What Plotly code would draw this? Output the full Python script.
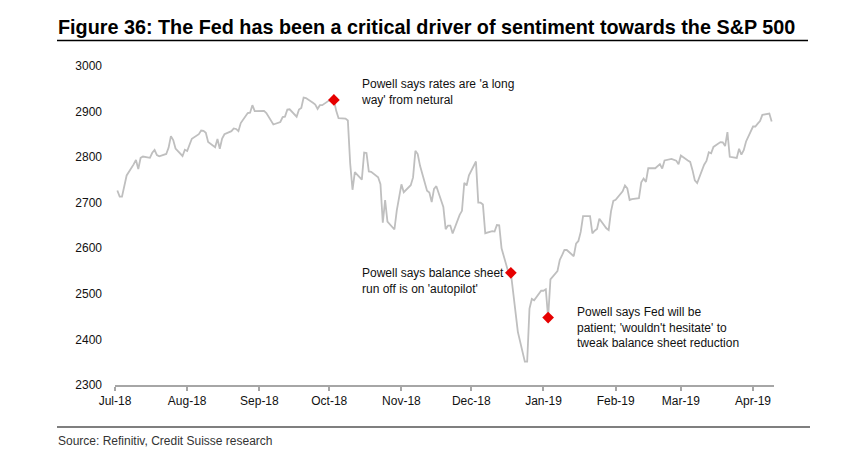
import pandas as pd
import plotly.graph_objects as go

# S&P 500 daily level (weekdays; market holidays carry previous value)
jul18 = [2726.71, 2713.22, 2713.22, 2736.61, 2759.82, 2784.17, 2793.84, 2774.02, 2798.29, 2801.31,
         2798.43, 2809.55, 2815.62, 2804.49, 2801.83, 2806.98, 2820.40, 2846.07, 2837.44, 2818.82,
         2802.60, 2816.29]
aug18 = [2813.36, 2827.22, 2840.35, 2850.40, 2858.45, 2857.70, 2853.58, 2833.28, 2821.93, 2839.96,
         2818.37, 2840.69, 2850.13, 2857.05, 2862.96, 2861.82, 2856.98, 2874.69, 2896.74, 2897.52,
         2914.04, 2901.13, 2901.52]
sep18 = [2901.52, 2896.72, 2888.60, 2878.05, 2871.68, 2877.13, 2887.89, 2888.92, 2904.18, 2904.98,
         2888.80, 2904.31, 2907.95, 2930.75, 2929.67, 2919.37, 2915.56, 2905.97, 2914.00, 2913.98]
oct18 = [2924.59, 2923.43, 2925.51, 2901.61, 2885.57, 2884.43, 2880.34, 2785.68, 2728.37, 2767.13,
         2750.79, 2809.92, 2809.21, 2768.78, 2767.78, 2755.88, 2740.69, 2656.10, 2705.57, 2658.69,
         2641.25, 2682.63, 2711.74]
nov18 = [2740.37, 2723.06, 2738.31, 2755.45, 2813.89, 2806.83, 2781.01, 2726.22, 2722.18, 2701.58,
         2730.20, 2736.27, 2690.73, 2641.89, 2649.93, 2649.93, 2632.56, 2673.45, 2682.17, 2743.79,
         2737.80, 2760.17]
dec18 = [2790.37, 2700.06, 2700.06, 2695.95, 2633.08, 2637.72, 2636.78, 2651.07, 2650.54, 2599.95,
         2545.94, 2546.16, 2506.96, 2467.42, 2416.62, 2351.10, 2351.10, 2467.70, 2488.83, 2485.74,
         2506.85]
jan19 = [2506.85, 2510.03, 2447.89, 2531.94, 2549.69, 2574.41, 2584.96, 2596.64, 2596.26, 2582.61,
         2610.30, 2616.10, 2635.96, 2670.71, 2670.71, 2632.90, 2638.70, 2642.33, 2664.76, 2643.85,
         2640.00, 2681.05, 2704.10]
feb19 = [2706.53, 2724.87, 2737.70, 2731.61, 2706.05, 2707.88, 2709.80, 2744.73, 2753.03, 2745.73,
         2775.60, 2775.60, 2779.76, 2784.70, 2774.88, 2792.67, 2796.11, 2793.90, 2792.38, 2784.49]
mar19 = [2803.69, 2792.81, 2789.65, 2771.45, 2748.93, 2743.07, 2783.30, 2791.52, 2810.92, 2808.48,
         2822.48, 2832.94, 2832.57, 2824.23, 2854.88, 2800.71, 2798.36, 2818.46, 2805.37, 2815.44,
         2834.40]
apr19 = [2867.19, 2867.24, 2873.40, 2879.39, 2892.74, 2895.77, 2878.20]

spx_values = jul18 + aug18 + sep18 + oct18 + nov18 + dec18 + jan19 + feb19 + mar19 + apr19
spx_dates = pd.bdate_range("2018-07-02", "2019-04-09")
assert len(spx_dates) == len(spx_values)

event_dates = ["2018-10-03", "2018-12-18", "2019-01-03"]
event_values = [2925.51, 2546.16, 2447.89]
event_labels = [
    "Powell says rates are 'a long<br>way' from netural",
    "Powell says balance sheet<br>run off is on 'autopilot'",
    "Powell says Fed will be<br>patient; 'wouldn't hesitate' to<br>tweak balance sheet reduction",
]

title_text = "Figure 36: The Fed has been a critical driver of sentiment towards the S&P 500"
source_text = "Source: Refinitiv, Credit Suisse research"
y_ticks = [2300, 2400, 2500, 2600, 2700, 2800, 2900, 3000]

SANS = "Liberation Sans, Arial, sans-serif"

# the page body adds an 8px offset; lay out in reference pixel coords minus 8
OFF = 8
L, R, T, B = 115 - OFF, 774 - OFF, 66 - OFF, 385 - OFF
W, H = 859 - OFF, 456 - OFF
def px(x):
    return (x - OFF - L) / (R - L)
def py(y):
    return (B - (y - OFF)) / (B - T)

fig = go.Figure()
fig.add_trace(go.Scatter(x=spx_dates, y=spx_values, mode="lines",
                         line=dict(color="#BFBFBF", width=1.8), hoverinfo="skip",
                         showlegend=False))
fig.add_trace(go.Scatter(x=event_dates, y=event_values, mode="markers",
                         marker=dict(symbol="diamond", color="#E60000", size=9,
                                     line=dict(width=0)),
                         showlegend=False))

ann_pos = [(359, 91.5), (360, 280.5), (575, 327.5)]
annotations = []
for (ax, ay), txt in zip(ann_pos, event_labels):
    annotations.append(dict(x=px(ax), y=py(ay), xref="paper", yref="paper", text=txt,
                            showarrow=False, xanchor="left", yanchor="middle", align="left",
                            font=dict(family=SANS, size=12, color="#111111")))
annotations.append(dict(x=px(56), y=py(27), xref="paper", yref="paper", text="<b>" + title_text + "</b>",
                        showarrow=False, xanchor="left", yanchor="middle",
                        font=dict(family=SANS, size=19.8, color="#000000")))
annotations.append(dict(x=px(56), y=py(441), xref="paper", yref="paper", text=source_text,
                        showarrow=False, xanchor="left", yanchor="middle",
                        font=dict(family=SANS, size=12, color="#333333")))

shapes = [
    dict(type="line", xref="paper", yref="paper", x0=px(57), x1=px(808), y0=py(40.5), y1=py(40.5),
         line=dict(color="#000000", width=1.5)),
    dict(type="line", xref="paper", yref="paper", x0=px(57), x1=px(810), y0=py(427), y1=py(427),
         line=dict(color="#000000", width=1.2)),
]

fig.update_layout(
    width=W, height=H,
    margin=dict(l=L, r=W - R, t=T, b=H - B, pad=0),
    paper_bgcolor="white", plot_bgcolor="white",
    annotations=annotations, shapes=shapes,
    xaxis=dict(type="date", range=["2018-07-01", "2019-04-10"],
               tick0="2018-07-01", dtick="M1", tickformat="%b-%y",
               showgrid=False, zeroline=False,
               showline=True, linecolor="#A6A6A6", linewidth=1.5,
               ticks="outside", ticklen=4, tickwidth=1.5, tickcolor="#A6A6A6",
               tickfont=dict(family=SANS, size=12, color="#111111")),
    yaxis=dict(range=[2300, 3000], tickvals=y_ticks, showgrid=False, zeroline=False,
               showline=False, ticks="", ticklabelstandoff=12,
               tickfont=dict(family=SANS, size=12, color="#111111")),
)

fig.write_html("out.html")
